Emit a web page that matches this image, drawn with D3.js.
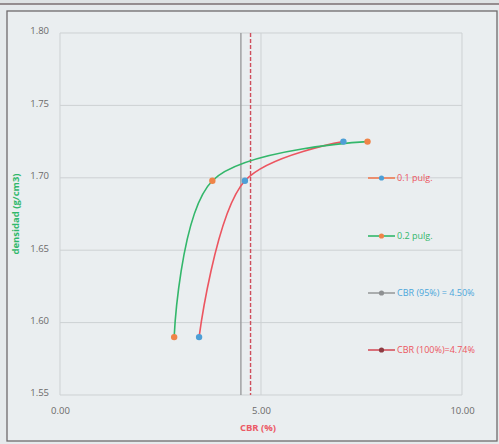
<!DOCTYPE html>
<html>
<head>
<meta charset="utf-8">
<script src="https://cdn.jsdelivr.net/npm/d3@7"></script>
<style>
  html, body { margin: 0; padding: 0; background: #e6eaec; }
  svg { display: block; }
</style>
</head>
<body>
<svg id="chart" width="499" height="444"></svg>
<script>
// CBR (%) vs. dry density for the 0.1" and 0.2" penetration readings
const cbr01 = [3.46, 4.60, 7.05];
const dens01 = [1.590, 1.698, 1.725];
const cbr02 = [2.84, 3.79, 7.65];
const dens02 = [1.590, 1.698, 1.725];

// design CBR values read at 95% and 100% of max density
const cbr95 = 4.50;
const cbr100 = 4.74;

const xTicks = [0, 5, 10];
const yTicks = [1.55, 1.60, 1.65, 1.70, 1.75, 1.80];

const legendLabels = ["0.1 pulg.", "0.2 pulg.", "CBR (95%) = 4.50%", "CBR (100%)=4.74%"];

const W = 499, H = 444;
const plot = { left: 60, right: 462, top: 33, bottom: 395 };

const svg = d3.select("#chart");

// page background and frames
svg.append("rect").attr("width", W).attr("height", H).attr("fill", "#e6eaec");
svg.append("rect").attr("x", 0).attr("y", 0).attr("width", W).attr("height", 4)
  .attr("fill", "#dfe3e4");
svg.append("line").attr("x1", 0).attr("x2", W).attr("y1", 4).attr("y2", 4)
  .attr("stroke", "#7b6f72").attr("stroke-width", 1.5);
svg.append("rect").attr("x", 7).attr("y", 11).attr("width", 490).attr("height", 430)
  .attr("fill", "#eaeef0").attr("stroke", "#6f6a6c").attr("stroke-width", 1.3);

const x = d3.scaleLinear().domain([0, 10]).range([plot.left, plot.right]);
const y = d3.scaleLinear().domain([1.55, 1.80]).range([plot.bottom, plot.top]);

const font = "'Open Sans', 'DejaVu Sans', sans-serif";

// gridlines
const grid = svg.append("g");
grid.selectAll(".hg").data(yTicks).join("line")
  .attr("x1", plot.left).attr("x2", plot.right)
  .attr("y1", d => y(d)).attr("y2", d => y(d))
  .attr("stroke", "#cdd1d3").attr("stroke-width", 1);
grid.selectAll(".vg").data(xTicks).join("line")
  .attr("x1", d => x(d)).attr("x2", d => x(d))
  .attr("y1", plot.top).attr("y2", plot.bottom)
  .attr("stroke", "#cdd1d3").attr("stroke-width", 1);

// axes (labels only, no axis lines)
const yAxis = svg.append("g").attr("transform", `translate(${plot.left - 8},0)`)
  .call(d3.axisLeft(y).tickValues(yTicks).tickFormat(d3.format(".2f")).tickSize(0));
yAxis.select(".domain").remove();
yAxis.selectAll("text").attr("font-family", font).attr("font-size", 9.5)
  .attr("fill", "#6a6a6a").attr("dx", "0").attr("dy", "0.1em");

const xAxis = svg.append("g").attr("transform", `translate(0,${plot.bottom + 9})`)
  .call(d3.axisBottom(x).tickValues(xTicks).tickFormat(d3.format(".2f")).tickSize(0));
xAxis.select(".domain").remove();
xAxis.selectAll("text").attr("font-family", font).attr("font-size", 9.5)
  .attr("fill", "#6a6a6a");

// axis titles
svg.append("text").attr("x", 258).attr("y", 431).attr("text-anchor", "middle")
  .attr("font-family", font).attr("font-size", 9.5).attr("font-weight", "bold")
  .attr("fill", "#ec5a66").text("CBR (%)");
svg.append("text").attr("transform", "translate(19,214) rotate(-90)")
  .attr("text-anchor", "middle")
  .attr("font-family", font).attr("font-size", 9.5).attr("font-weight", "bold")
  .attr("fill", "#2fb86a").text("densidad (g/cm3)");

// vertical CBR reference lines
svg.append("line").attr("x1", x(cbr95)).attr("x2", x(cbr95))
  .attr("y1", y(1.80)).attr("y2", y(1.55))
  .attr("stroke", "#9a9c9e").attr("stroke-width", 1.4);
svg.append("line").attr("x1", x(cbr100)).attr("x2", x(cbr100))
  .attr("y1", y(1.80)).attr("y2", y(1.55))
  .attr("stroke", "#cf4f5c").attr("stroke-width", 1.4).attr("stroke-dasharray", "4,2");

// smoothed series lines
const line = d3.line().x(d => x(d[0])).y(d => y(d[1])).curve(d3.curveCatmullRom.alpha(0.5));
const s01 = cbr01.map((c, i) => [c, dens01[i]]);
const s02 = cbr02.map((c, i) => [c, dens02[i]]);

svg.append("path").datum(s01).attr("d", line).attr("fill", "none")
  .attr("stroke", "#ec5560").attr("stroke-width", 1.6);
svg.append("path").datum(s02).attr("d", line).attr("fill", "none")
  .attr("stroke", "#33b76b").attr("stroke-width", 1.6);

svg.selectAll(".m01").data(s01).join("circle")
  .attr("cx", d => x(d[0])).attr("cy", d => y(d[1])).attr("r", 3.2)
  .attr("fill", "#4d9fd6");
svg.selectAll(".m02").data(s02).join("circle")
  .attr("cx", d => x(d[0])).attr("cy", d => y(d[1])).attr("r", 3.2)
  .attr("fill", "#ef8448");

// legend
const legendItems = [
  { label: legendLabels[0], line: "#ef7a52", marker: "#4d9fd6", text: "#ec5560", y: 178 },
  { label: legendLabels[1], line: "#33b76b", marker: "#ef8448", text: "#33b76b", y: 236 },
  { label: legendLabels[2], line: "#9a9c9e", marker: "#8e9092", text: "#4aa6db", y: 293 },
  { label: legendLabels[3], line: "#d5505c", marker: "#8c3b42", text: "#ec5560", y: 350 }
];
const lg = svg.append("g");
legendItems.forEach(it => {
  lg.append("line").attr("x1", 368).attr("x2", 395).attr("y1", it.y).attr("y2", it.y)
    .attr("stroke", it.line).attr("stroke-width", 1.6);
  lg.append("circle").attr("cx", 381.5).attr("cy", it.y).attr("r", 2.6).attr("fill", it.marker);
  lg.append("text").attr("x", 397).attr("y", it.y).attr("dy", "0.35em")
    .attr("font-family", font).attr("font-size", 9).attr("fill", it.text).text(it.label);
});
</script>
</body>
</html>
